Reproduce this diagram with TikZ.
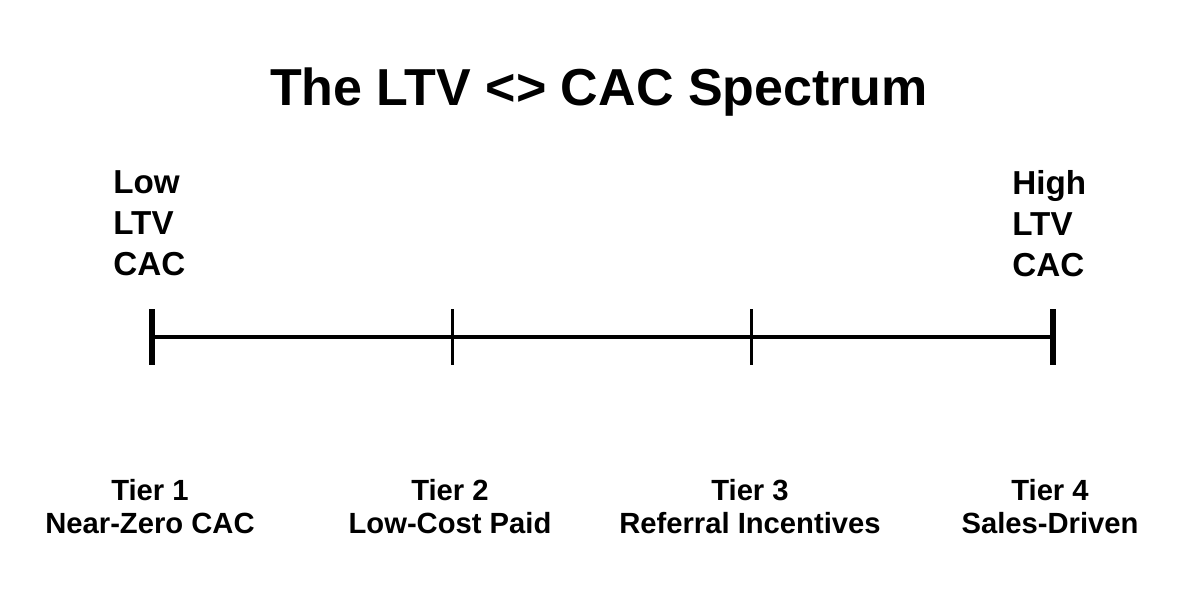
\documentclass[tikz,border=0pt]{standalone}
\usepackage{fontspec}
\setmainfont{Liberation Sans}
\usetikzlibrary{positioning, calc}
\tikzset{
    title/.style={
        font=\fontsize{26}{30}\selectfont\bfseries,
        inner sep=0pt, anchor=center
    },
    endlabel/.style={
        font=\fontsize{16.6}{20.5}\selectfont\bfseries,
        align=left, inner sep=0pt, anchor=north west
    },
    tierlabel/.style={
        font=\fontsize{14.6}{16.5}\selectfont\bfseries,
        align=center, inner sep=0pt, anchor=north
    },
    axis/.style={line width=2pt, draw=black},
    endtick/.style={line width=2.8pt, draw=black},
    midtick/.style={line width=1.5pt, draw=black},
}

\begin{document}
\begin{tikzpicture}[x=0.5pt, y=-0.5pt]
\useasboundingbox (0,0) rectangle (1200,600);

% ---- Title ----
\node[title] (title) at (599,92) {The LTV <> CAC Spectrum};

% ---- Ends of the spectrum ----
\node[endlabel] (low)  at (113,170)  {Low\\LTV\\CAC};
\node[endlabel] (high) at (1012,170) {High\\LTV\\CAC};

% ---- Axis and ticks ----
\coordinate (t1) at (152,337);
\coordinate (t2) at (452,337);
\coordinate (t3) at (751,337);
\coordinate (t4) at (1053,337);
\draw[axis] (t1) -- (t4);
\draw[endtick] ($(t1)+(0,-28)$) -- ($(t1)+(0,28)$);
\draw[midtick] ($(t2)+(0,-28)$) -- ($(t2)+(0,28)$);
\draw[midtick] ($(t3)+(0,-28)$) -- ($(t3)+(0,28)$);
\draw[endtick] ($(t4)+(0,-28)$) -- ($(t4)+(0,28)$);

% ---- Tiers ----
\node[tierlabel] (tier1) at (150,479)  {Tier 1\\Near-Zero CAC};
\node[tierlabel] (tier2) at (450,479)  {Tier 2\\Low-Cost Paid};
\node[tierlabel] (tier3) at (750,479)  {Tier 3\\Referral Incentives};
\node[tierlabel] (tier4) at (1050,479) {Tier 4\\Sales-Driven};

\end{tikzpicture}
\end{document}
